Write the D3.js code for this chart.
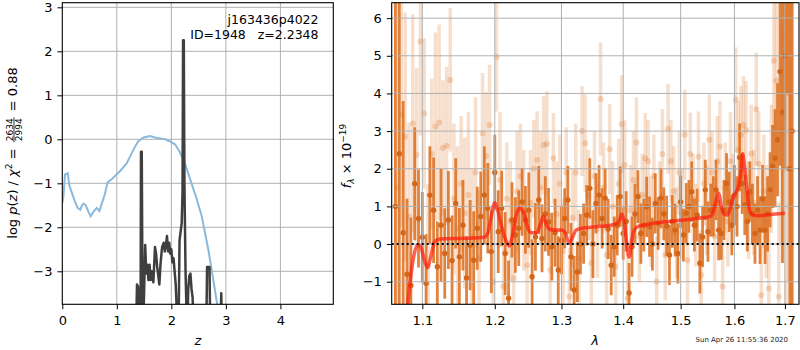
<!DOCTYPE html>
<html>
<head>
<meta charset="utf-8">
<script src="https://cdn.jsdelivr.net/npm/d3@7"></script>
<style>
  body { margin: 0; background: #fff; }
  svg { display: block; font-family: "DejaVu Sans", sans-serif; }
</style>
</head>
<body>
<div id="chart"></div>
<script>
// ---- left panel: p(z) and chi2 curves ----
const pzZ = [1.35, 1.37, 1.39, 1.405, 1.435, 1.443, 1.457, 1.475, 1.50, 1.52, 1.54, 1.56, 1.58, 1.60, 1.62, 1.64, 1.67, 1.70, 1.72, 1.74, 1.76, 1.78, 1.80, 1.83, 1.86, 1.88, 1.90, 1.92, 1.94, 1.96, 1.98, 2.00, 2.02, 2.04, 2.06, 2.08, 2.10, 2.13, 2.15, 2.17, 2.19, 2.205, 2.215, 2.228, 2.24, 2.26, 2.29, 2.31, 2.33, 2.35, 2.37, 2.39, 2.41, 2.64, 2.655, 2.70, 2.715, 2.90, 2.915, 2.93];
const pzLog = [-4.5, -3.3, -3.35, -4.5, -4.5, -0.28, -0.28, -4.5, -3.5, -2.4, -3.05, -2.85, -3.2, -2.85, -3.2, -3.0, -3.25, -2.45, -2.6, -2.9, -3.1, -3.3, -2.85, -2.45, -2.35, -2.55, -2.4, -2.2, -2.55, -2.35, -2.6, -2.5, -2.8, -2.7, -3.0, -3.3, -3.9, -4.5, -2.3, -2.1, -1.9, -1.2, 2.25, 2.25, -1.0, -3.0, -4.5, -3.4, -3.1, -3.05, -3.4, -3.6, -4.5, -4.5, -2.9, -2.9, -4.5, -4.5, -3.5, -4.5];

const chiZ = [0.0, 0.02, 0.05, 0.1, 0.13, 0.16, 0.23, 0.28, 0.33, 0.36, 0.39, 0.43, 0.48, 0.52, 0.57, 0.63, 0.68, 0.72, 0.78, 0.83, 0.91, 0.97, 1.06, 1.18, 1.24, 1.32, 1.39, 1.49, 1.61, 1.70, 1.79, 1.89, 1.98, 2.07, 2.16, 2.25, 2.31, 2.37, 2.46, 2.56, 2.62, 2.68, 2.74, 2.80, 2.84, 2.88];
const chiVal = [-1.45, -1.3, -0.8, -0.77, -1.05, -1.16, -1.41, -1.56, -1.6, -1.5, -1.46, -1.5, -1.65, -1.75, -1.65, -1.56, -1.63, -1.48, -1.25, -0.98, -0.9, -0.83, -0.72, -0.55, -0.4, -0.2, -0.05, 0.04, 0.075, 0.04, 0.02, 0.0, -0.05, -0.12, -0.3, -0.55, -0.78, -1.0, -1.34, -1.76, -2.14, -2.52, -2.97, -3.43, -3.75, -4.1];

const zTicks = [0, 1, 2, 3, 4];
const logpTicks = [-3, -2, -1, 0, 1, 2, 3];

// ---- right panel: spectrum ----
const darkLam = [1.065, 1.070, 1.075, 1.080, 1.085, 1.090, 1.095, 1.100, 1.105, 1.110, 1.115, 1.120, 1.125, 1.130, 1.135, 1.140, 1.145, 1.150, 1.155, 1.160, 1.165, 1.170, 1.175, 1.180, 1.185, 1.190, 1.195, 1.200, 1.205, 1.210, 1.215, 1.220, 1.225, 1.230, 1.235, 1.240, 1.245, 1.250, 1.255, 1.260, 1.265, 1.270, 1.275, 1.280, 1.285, 1.290, 1.295, 1.300, 1.305, 1.310, 1.315, 1.320, 1.325, 1.330, 1.335, 1.340, 1.345, 1.350, 1.355, 1.360, 1.365, 1.370, 1.375, 1.380, 1.385, 1.390, 1.395, 1.400, 1.405, 1.410, 1.415, 1.420, 1.425, 1.430, 1.435, 1.440, 1.445, 1.450, 1.455, 1.460, 1.465, 1.470, 1.475, 1.480, 1.485, 1.490, 1.495, 1.500, 1.505, 1.510, 1.515, 1.520, 1.525, 1.530, 1.535, 1.540, 1.545, 1.550, 1.555, 1.560, 1.565, 1.570, 1.575, 1.580, 1.585, 1.590, 1.595, 1.600, 1.605, 1.610, 1.615, 1.620, 1.625, 1.630, 1.635, 1.640, 1.645, 1.650, 1.655, 1.660, 1.665, 1.670, 1.675, 1.680, 1.685, 1.690, 1.695, 1.700, 1.705, 1.710, 1.715];
const darkFlux = [1.0, 2.4, 0.3, -0.8, -1.1, 1.6, 0.68, 0.18, -1.04, 1.3, 0.9, -0.6, 0.5, -0.25, 0.64, -0.44, 1.08, -0.34, 0.5, -0.9, -0.03, -0.43, 0.42, 0.73, 1.3, 0.95, -0.2, 1.9, 0.33, 0.95, -0.25, -1.44, 0.64, 0.24, 0.42, 1.12, 0.64, 0.9, -0.87, 0.19, 1.17, 0.15, 0.8, 0.59, -0.07, 0.3, -0.69, 0.1, 0.68, 1.17, -0.34, -1.22, -0.74, 0.0, 0.28, 0.77, 1.48, 0.0, 1.08, 1.3, 0.68, 1.22, 0.4, -0.56, -0.07, 0.5, 1.26, 0.28, 0.6, -1.3, -0.07, 0.8, 1.26, 0.28, 0.5, 0.99, 0.46, 0.0, 1.08, 0.55, 1.22, 0.8, 0.48, -0.29, 0.6, 0.37, -0.25, 1.12, 0.24, 0.82, 1.0, 1.39, 0.5, 0.77, -0.51, 0.19, 1.44, 0.33, 0.9, 1.0, 1.44, 0.37, 0.28, 0.9, 1.61, 1.12, 0.5, 1.3, 1.0, 2.3, 1.6, 1.04, 0.6, 1.39, 0.8, 0.28, 0.9, 0.37, 1.2, 0.37, 0.8, 1.44, 2.06, 2.28, 2.77, 4.58, 3.5, 5.0, 7.0, 2.0, 3.0];
const darkErr = [6, 6, 3.5, 2.0, 1.8, 1.5, 1.3, 1.2, 1.3, 1.3, 1.4, 1.2, 1.5, 1.2, 1.3, 1.2, 1.2, 1.3, 1.2, 1.1, 1.2, 1.3, 1.1, 1.2, 1.3, 1.2, 1.1, 1.0, 1.1, 1.0, 1.1, 1.0, 1.0, 1.0, 1.0, 0.9, 0.9, 1.0, 1.0, 0.9, 0.9, 0.9, 1.0, 0.9, 0.9, 0.9, 0.9, 0.9, 0.8, 0.9, 0.9, 0.9, 0.8, 0.8, 0.8, 0.8, 0.8, 0.9, 0.8, 0.8, 0.8, 0.8, 0.8, 0.8, 0.8, 0.8, 0.8, 0.7, 0.8, 0.8, 0.8, 0.8, 0.7, 0.8, 0.7, 0.8, 0.8, 0.7, 0.8, 0.7, 0.8, 0.7, 0.8, 0.8, 0.7, 0.7, 0.8, 0.7, 0.7, 0.8, 0.7, 0.8, 0.7, 0.7, 0.8, 0.8, 0.8, 0.8, 0.7, 0.8, 0.8, 0.8, 0.7, 0.8, 0.8, 0.8, 0.8, 0.8, 0.8, 0.9, 0.8, 0.8, 0.8, 0.8, 0.8, 0.8, 0.9, 0.9, 0.9, 0.9, 1.0, 1.0, 1.1, 1.3, 1.5, 2.5, 4, 3, 3.0, 6, 8];

const lightLam = [1.0675, 1.0725, 1.0775, 1.0825, 1.0875, 1.0925, 1.0975, 1.1025, 1.1075, 1.1125, 1.1175, 1.1225, 1.1275, 1.1325, 1.1375, 1.1425, 1.1475, 1.1525, 1.1575, 1.1625, 1.1675, 1.1725, 1.1775, 1.1825, 1.1875, 1.1925, 1.1975, 1.2025, 1.2075, 1.2125, 1.2175, 1.2225, 1.2275, 1.2325, 1.2375, 1.2425, 1.2475, 1.2525, 1.2575, 1.2625, 1.2675, 1.2725, 1.2775, 1.2825, 1.2875, 1.2925, 1.2975, 1.3025, 1.3075, 1.3125, 1.3175, 1.3225, 1.3275, 1.3325, 1.3375, 1.3425, 1.3475, 1.3525, 1.3575, 1.3625, 1.3675, 1.3725, 1.3775, 1.3825, 1.3875, 1.3925, 1.3975, 1.4025, 1.4075, 1.4125, 1.4175, 1.4225, 1.4275, 1.4325, 1.4375, 1.4425, 1.4475, 1.4525, 1.4575, 1.4625, 1.4675, 1.4725, 1.4775, 1.4825, 1.4875, 1.4925, 1.4975, 1.5025, 1.5075, 1.5125, 1.5175, 1.5225, 1.5275, 1.5325, 1.5375, 1.5425, 1.5475, 1.5525, 1.5575, 1.5625, 1.5675, 1.5725, 1.5775, 1.5825, 1.5875, 1.5925, 1.5975, 1.6025, 1.6075, 1.6125, 1.6175, 1.6225, 1.6275, 1.6325, 1.6375, 1.6425, 1.6475, 1.6525, 1.6575, 1.6625, 1.6675, 1.6725, 1.6775, 1.6825, 1.6875, 1.6925, 1.6975, 1.7025, 1.7075, 1.7125];
const lightFlux = [1.5, 3.45, 2.85, 0.73, 3.2, 2.37, 5.38, 3.47, -0.6, 2.39, 3.12, 3.23, 2.55, 2.61, 4.36, 1.2, 0.4, 1.6, 0.82, 1.3, 0.2, 1.9, -0.37, 2.94, 2.34, 3.16, -1.0, 4.97, 1.7, -1.13, 1.2, 0.6, -0.91, 1.4, 1.8, 0.9, -0.56, 1.1, 2.0, 2.23, 1.5, 2.63, 2.66, -0.69, 2.28, 0.8, 1.6, -0.2, 1.9, -1.4, 0.7, 1.9, -0.38, 3.0, 2.68, 1.3, -0.5, 1.8, 0.4, 3.85, 1.5, -0.3, 2.52, 1.0, -0.6, 1.6, 3.18, 2.1, -1.44, 0.9, 1.7, 2.7, 0.2, 1.3, 2.28, 2.2, 0.6, 1.8, -1.0, 1.1, 2.39, -0.29, 3.06, 2.2, 1.4, 0.3, 1.9, 0.8, 2.9, -0.43, 2.39, 1.2, 0.5, 2.32, -0.82, 1.6, 0.9, 2.77, 1.9, 0.2, 2.2, 2.59, -1.13, 1.5, 0.6, 2.2, 1.2, 3.83, 2.5, 2.9, 3.16, 3.03, 0.9, 2.4, 1.1, 3.58, 2.13, -1.36, 1.4, 0.6, -1.18, 2.0, 4.87, 4.34, -1.4, 3.0, 5.5, 2.0, 4.0, 3.0];
const lightErr = [5, 3.0, 3.3, 2.5, 2.9, 2.3, 2.5, 2.0, 2.2, 2.0, 2.5, 2.6, 1.8, 2.1, 1.9, 2.0, 2.2, 1.8, 2.0, 2.2, 1.8, 2.0, 1.8, 1.6, 1.7, 1.6, 1.9, 1.45, 1.8, 1.6, 1.5, 1.6, 1.5, 1.6, 1.4, 1.6, 1.5, 1.4, 1.3, 1.3, 1.5, 1.3, 1.4, 1.5, 1.2, 1.4, 1.3, 1.4, 1.2, 1.3, 1.3, 1.3, 1.3, 1.2, 1.3, 1.2, 1.3, 1.2, 1.3, 1.5, 1.2, 1.3, 1.2, 1.2, 1.3, 1.2, 1.3, 1.2, 1.2, 1.2, 1.3, 1.2, 1.2, 1.1, 1.2, 1.1, 1.2, 1.1, 1.2, 1.1, 1.2, 1.2, 1.2, 1.1, 1.2, 1.2, 1.1, 1.2, 1.2, 1.2, 1.1, 1.2, 1.1, 1.2, 1.2, 1.1, 1.2, 1.2, 1.1, 1.2, 1.2, 1.2, 1.2, 1.2, 1.2, 1.3, 1.2, 1.4, 1.3, 1.3, 1.3, 1.3, 1.3, 1.3, 1.4, 1.5, 1.4, 1.4, 1.5, 1.5, 1.6, 1.7, 2.0, 2.2, 2.5, 3.0, 3.5, 4.5, 5.0, 6.0];

const modelLam = [1.080, 1.084, 1.089, 1.094, 1.098, 1.103, 1.107, 1.111, 1.116, 1.121, 1.13, 1.15, 1.17, 1.185, 1.19, 1.195, 1.2, 1.205, 1.21, 1.216, 1.221, 1.226, 1.231, 1.236, 1.242, 1.248, 1.253, 1.262, 1.268, 1.272, 1.276, 1.281, 1.29, 1.30, 1.306, 1.312, 1.318, 1.323, 1.335, 1.35, 1.36, 1.37, 1.385, 1.393, 1.398, 1.402, 1.406, 1.410, 1.414, 1.418, 1.424, 1.44, 1.46, 1.48, 1.50, 1.52, 1.54, 1.553, 1.56, 1.566, 1.570, 1.575, 1.58, 1.587, 1.593, 1.598, 1.604, 1.609, 1.613, 1.616, 1.62, 1.624, 1.628, 1.633, 1.645, 1.662, 1.68, 1.70];
const modelFlux = [-1.8, -1.0, -0.3, -0.02, -0.08, -0.45, -0.62, -0.35, 0.05, 0.12, 0.14, 0.15, 0.16, 0.18, 0.3, 0.75, 1.1, 0.85, 0.45, 0.1, -0.05, 0.25, 0.75, 0.95, 0.85, 0.45, 0.3, 0.3, 0.55, 0.73, 0.55, 0.4, 0.37, 0.37, 0.3, 0.02, 0.2, 0.37, 0.43, 0.45, 0.47, 0.48, 0.52, 0.6, 0.8, 0.55, 0.0, -0.35, 0.05, 0.35, 0.46, 0.52, 0.57, 0.6, 0.63, 0.66, 0.7, 0.73, 0.85, 1.2, 1.35, 1.0, 0.8, 0.77, 1.0, 1.25, 1.4, 1.6, 2.0, 2.4, 2.0, 1.5, 1.0, 0.8, 0.75, 0.77, 0.8, 0.82];

const lamTicks = [1.1, 1.2, 1.3, 1.4, 1.5, 1.6, 1.7];
const fluxTicks = [-1, 0, 1, 2, 3, 4, 5, 6];

const fieldName = "j163436p4022";
const objectInfo = "ID=1948   z=2.2348";
const stamp = "Sun Apr 26 11:55:36 2020";

document.addEventListener('DOMContentLoaded', function() {
    const width = 800, height = 350;
    const top = 2.7, bottom = 304.3;
    const orange = "#dc6d1d";
    const gridColor = "#b0b0b0";
    const fontSize = 13;

    const svg = d3.select("#chart")
        .append("svg")
        .attr("width", width)
        .attr("height", height);

    // ---------- left panel ----------
    const zScale = d3.scaleLinear().domain([0, 4.97]).range([62.3, 333.3]);
    const pScale = d3.scaleLinear().domain([-3.75, 3.105]).range([bottom, top]);

    svg.append("clipPath").attr("id", "clipL")
        .append("rect")
        .attr("x", 62.3).attr("y", top)
        .attr("width", 271).attr("height", bottom - top);

    const left = svg.append("g");

    // grid
    left.selectAll(".gx").data(zTicks.slice(1)).enter().append("line")
        .attr("x1", d => zScale(d)).attr("x2", d => zScale(d))
        .attr("y1", top).attr("y2", bottom)
        .attr("stroke", gridColor).attr("stroke-width", 1);
    left.selectAll(".gy").data(logpTicks).enter().append("line")
        .attr("y1", d => pScale(d)).attr("y2", d => pScale(d))
        .attr("x1", 62.3).attr("x2", 333.3)
        .attr("stroke", gridColor).attr("stroke-width", 1);

    const plotL = left.append("g").attr("clip-path", "url(#clipL)");

    const curve = d3.line().x(d => zScale(d[0])).y(d => pScale(d[1]));
    plotL.append("path")
        .datum(chiZ.map((z, i) => [z, chiVal[i]]))
        .attr("d", curve)
        .attr("fill", "none")
        .attr("stroke", "#8ab9dc")
        .attr("stroke-width", 2);

    plotL.append("path")
        .datum(pzZ.map((z, i) => [z, pzLog[i]]))
        .attr("d", curve)
        .attr("fill", "none")
        .attr("stroke", "#3f3f3f")
        .attr("stroke-width", 2.5)
        .attr("stroke-linejoin", "round");

    // axes
    const xAxisL = left.append("g")
        .attr("transform", `translate(0,${bottom})`)
        .call(d3.axisBottom(zScale).tickValues(zTicks).tickSize(4.9).tickPadding(6.6).tickFormat(d3.format("d")));
    const yAxisL = left.append("g")
        .attr("transform", "translate(62.3,0)")
        .call(d3.axisLeft(pScale).tickValues(logpTicks).tickSize(4.9).tickPadding(5).tickFormat(d3.format("d")));
    [xAxisL, yAxisL].forEach(a => {
        a.select(".domain").remove();
        a.selectAll("text").attr("font-size", fontSize).attr("fill", "#000").attr("font-family", "DejaVu Sans");
        a.selectAll("line").attr("stroke", "#000");
    });

    left.append("rect")
        .attr("x", 62.3).attr("y", top)
        .attr("width", 271).attr("height", bottom - top)
        .attr("fill", "none").attr("stroke", "#000").attr("stroke-width", 1.1);

    // annotation
    left.append("text")
        .attr("x", 318.5).attr("y", 24)
        .attr("text-anchor", "end")
        .attr("font-size", 12.5)
        .text(fieldName);
    left.append("text")
        .attr("x", 318.5).attr("y", 39)
        .attr("text-anchor", "end")
        .attr("font-size", 12.5)
        .style("white-space", "pre")
        .text(objectInfo);

    // x label
    left.append("text")
        .attr("x", zScale(2.485)).attr("y", 345)
        .attr("text-anchor", "middle")
        .attr("font-size", fontSize)
        .attr("font-style", "italic")
        .text("z");

    // y label with fraction
    const ylab = left.append("g");
    const part1 = ylab.append("text").attr("font-size", fontSize).attr("x", 0).attr("y", 0)
        .style("white-space", "pre");
    part1.append("tspan").text("log ");
    part1.append("tspan").attr("font-style", "italic").text("p");
    part1.append("tspan").text("(");
    part1.append("tspan").attr("font-style", "italic").text("z");
    part1.append("tspan").text(") / ");
    part1.append("tspan").attr("font-style", "italic").text("χ");
    part1.append("tspan").attr("font-size", 9).attr("dy", -5).text("2");
    part1.append("tspan").attr("dy", 5).text(" = ");
    const w1 = part1.node().getComputedTextLength() + 2;

    const num = ylab.append("text").attr("font-size", 9).attr("text-anchor", "middle").attr("y", -4.5).text("2634");
    const fw = num.node().getComputedTextLength() + 2;
    num.attr("x", w1 + fw / 2);
    ylab.append("text").attr("font-size", 9).attr("text-anchor", "middle")
        .attr("x", w1 + fw / 2).attr("y", 4.5).text("2994");
    ylab.append("line")
        .attr("x1", w1).attr("x2", w1 + fw)
        .attr("y1", -3).attr("y2", -3)
        .attr("stroke", "#000").attr("stroke-width", 0.8);

    const part3 = ylab.append("text").attr("font-size", fontSize)
        .attr("x", w1 + fw + 2).attr("y", 0)
        .style("white-space", "pre")
        .text(" = 0.88");
    const total = w1 + fw + 2 + part3.node().getComputedTextLength();
    ylab.attr("transform", `translate(17,153) rotate(-90) translate(${-total / 2},0)`);

    // ---------- right panel ----------
    const lamScale = d3.scaleLog().domain([1.0603, 1.729]).range([391.7, 799]);
    const fScale = d3.scaleLinear().domain([-1.6, 6.41]).range([bottom, top]);

    svg.append("clipPath").attr("id", "clipR")
        .append("rect")
        .attr("x", 391.7).attr("y", top)
        .attr("width", 799 - 391.7).attr("height", bottom - top);

    const right = svg.append("g");
    const plotR = right.append("g").attr("clip-path", "url(#clipR)");

    const light = lightLam.map((l, i) => ({lam: l, f: lightFlux[i], e: lightErr[i]}));
    const dark = darkLam.map((l, i) => ({lam: l, f: darkFlux[i], e: darkErr[i]}));

    // light spectrum
    plotR.selectAll(".lbar").data(light).enter().append("line")
        .attr("x1", d => lamScale(d.lam)).attr("x2", d => lamScale(d.lam))
        .attr("y1", d => fScale(d.f - d.e)).attr("y2", d => fScale(d.f + d.e))
        .attr("stroke", orange).attr("stroke-opacity", 0.22).attr("stroke-width", 3.5);
    plotR.selectAll(".ldot").data(light).enter().append("circle")
        .attr("cx", d => lamScale(d.lam)).attr("cy", d => fScale(d.f))
        .attr("r", 3).attr("fill", orange).attr("fill-opacity", 0.25);

    // dark spectrum
    plotR.selectAll(".dbar").data(dark).enter().append("line")
        .attr("x1", d => lamScale(d.lam)).attr("x2", d => lamScale(d.lam))
        .attr("y1", d => fScale(d.f - d.e)).attr("y2", d => fScale(d.f + d.e))
        .attr("stroke", orange).attr("stroke-opacity", 0.85).attr("stroke-width", 2.8);
    plotR.selectAll(".ddot").data(dark).enter().append("circle")
        .attr("cx", d => lamScale(d.lam)).attr("cy", d => fScale(d.f))
        .attr("r", 2.7).attr("fill", "#d4661a");

    // grid on top of the error bars
    right.selectAll(".gx").data(lamTicks).enter().append("line")
        .attr("x1", d => lamScale(d)).attr("x2", d => lamScale(d))
        .attr("y1", top).attr("y2", bottom)
        .attr("stroke", gridColor).attr("stroke-width", 1);
    right.selectAll(".gy").data(fluxTicks).enter().append("line")
        .attr("y1", d => fScale(d)).attr("y2", d => fScale(d))
        .attr("x1", 391.7).attr("x2", 799)
        .attr("stroke", gridColor).attr("stroke-width", 1);

    // model
    const modelLine = d3.line()
        .x(d => lamScale(d[0])).y(d => fScale(d[1]))
        .curve(d3.curveMonotoneX);
    const plotTop = right.append("g").attr("clip-path", "url(#clipR)");
    plotTop.append("path")
        .datum(modelLam.map((l, i) => [l, modelFlux[i]]))
        .attr("d", modelLine)
        .attr("fill", "none")
        .attr("stroke", "#ff1a0a")
        .attr("stroke-opacity", 0.7)
        .attr("stroke-width", 3.5)
        .attr("stroke-linejoin", "round");

    // zero line
    plotTop.append("line")
        .attr("x1", 391.7).attr("x2", 799)
        .attr("y1", fScale(0)).attr("y2", fScale(0))
        .attr("stroke", "#000").attr("stroke-width", 2)
        .attr("stroke-dasharray", "2,3");

    const xAxisR = right.append("g")
        .attr("transform", `translate(0,${bottom})`)
        .call(d3.axisBottom(lamScale).tickValues(lamTicks).tickSize(4.9).tickPadding(6.6).tickFormat(d3.format(".1f")));
    const yAxisR = right.append("g")
        .attr("transform", "translate(391.7,0)")
        .call(d3.axisLeft(fScale).tickValues(fluxTicks).tickSize(4.9).tickPadding(5).tickFormat(d3.format("d")));
    [xAxisR, yAxisR].forEach(a => {
        a.select(".domain").remove();
        a.selectAll("text").attr("font-size", fontSize).attr("fill", "#000").attr("font-family", "DejaVu Sans");
        a.selectAll("line").attr("stroke", "#000");
    });

    right.append("rect")
        .attr("x", 391.7).attr("y", top)
        .attr("width", 799 - 391.7).attr("height", bottom - top)
        .attr("fill", "none").attr("stroke", "#000").attr("stroke-width", 1.1);

    // x label
    right.append("text")
        .attr("x", 595).attr("y", 345)
        .attr("text-anchor", "middle")
        .attr("font-size", fontSize)
        .attr("font-style", "italic")
        .text("λ");

    // y label
    const rlab = right.append("text")
        .attr("font-size", fontSize)
        .attr("text-anchor", "middle")
        .attr("transform", "translate(351,156) rotate(-90)");
    rlab.append("tspan").attr("font-style", "italic").text("f");
    rlab.append("tspan").attr("font-style", "italic").attr("font-size", 9).attr("dy", 3).text("λ");
    rlab.append("tspan").attr("dy", -3).text(" × 10");
    rlab.append("tspan").attr("font-size", 9).attr("dy", -5).text("−19");

    // timestamp
    svg.append("text")
        .attr("x", 788).attr("y", 342)
        .attr("text-anchor", "end")
        .attr("font-size", 7)
        .attr("fill", "#222")
        .text(stamp);
});
</script>
</body>
</html>
